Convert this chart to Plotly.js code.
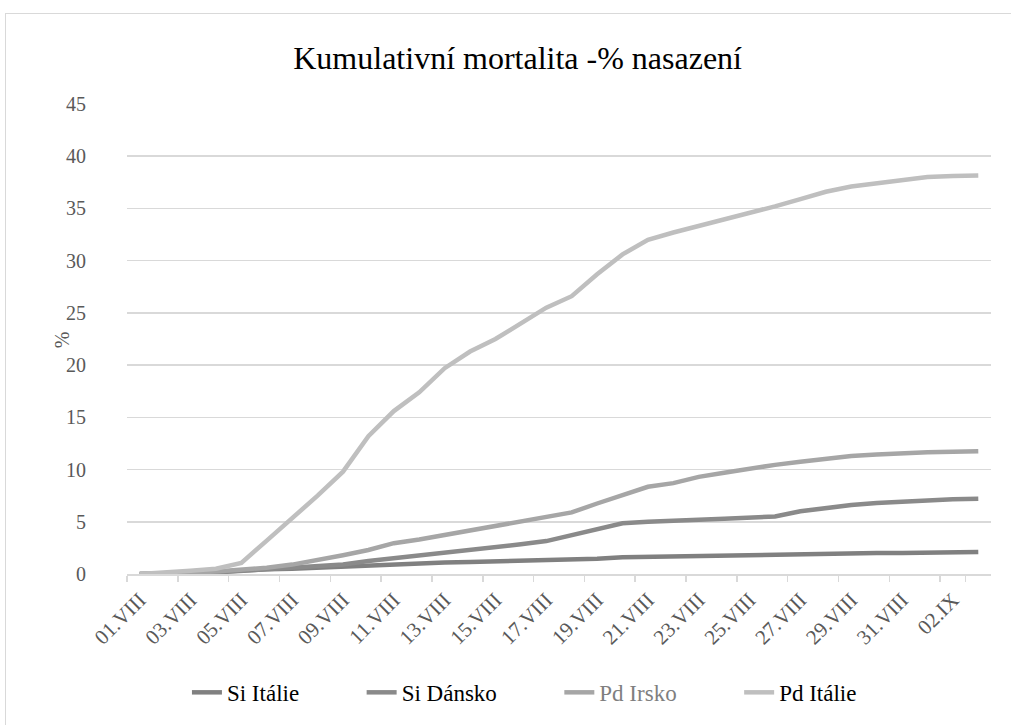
<!DOCTYPE html>
<html>
<head>
<meta charset="utf-8">
<script src="https://cdn.plot.ly/plotly-3.0.1.min.js"></script>
<style>
  html, body { margin: 0; padding: 0; background: #fff; overflow: hidden; }
  #frame { position: absolute; left: 5px; top: 13px; width: 1030px; height: 740px; border: 1px solid #d9d9d9; box-sizing: border-box; }
  #chart { position: absolute; left: 0; top: 0; width: 1011px; height: 725px; }
</style>
</head>
<body>
<div id="frame"></div>
<div id="chart"></div>
<script>
const categories = [
  "01.VIII","02.VIII","03.VIII","04.VIII","05.VIII","06.VIII","07.VIII","08.VIII","09.VIII","10.VIII",
  "11.VIII","12.VIII","13.VIII","14.VIII","15.VIII","16.VIII","17.VIII","18.VIII","19.VIII","20.VIII",
  "21.VIII","22.VIII","23.VIII","24.VIII","25.VIII","26.VIII","27.VIII","28.VIII","29.VIII","30.VIII",
  "31.VIII","01.IX","02.IX","03.IX"
];
const tickLabels = categories.filter((c, i) => i % 2 === 0);

const siItalie = [0,0,0.05,0.2,0.35,0.45,0.5,0.6,0.7,0.85,1.0,1.05,1.1,1.15,1.2,1.25,1.25,1.3,1.45,1.6,1.65,1.7,1.7,1.7,1.75,1.8,1.85,1.9,1.95,2.0,2.0,2.05,2.1,2.1];
const siDansko = [0,0,0.05,0.15,0.3,0.4,0.5,0.7,0.9,1.25,1.5,1.8,2.05,2.25,2.6,2.85,3.15,3.7,4.35,4.85,5.0,5.15,5.2,5.3,5.4,5.5,6.0,6.35,6.6,6.8,6.95,7.1,7.15,7.2];
const pdIrsko = [0,0,0.1,0.25,0.4,0.6,0.9,1.3,1.8,2.3,2.95,3.3,3.75,4.2,4.65,5.1,5.45,5.9,6.75,7.6,8.35,8.7,9.3,9.7,10.1,10.45,10.75,11.05,11.3,11.45,11.6,11.65,11.7,11.75];
const pdItalie = [0,0.1,0.3,0.5,1.05,3.2,5.3,7.5,9.8,13.2,15.6,17.4,19.7,21.3,22.5,24.0,25.5,26.6,28.7,30.6,32.0,32.7,33.3,34.0,34.6,35.2,35.9,36.6,37.1,37.4,37.7,38.0,38.1,38.15];

const seriesLabels = ["Si Itálie", "Si Dánsko", "Pd Irsko", "Pd Itálie"];
const seriesData = [siItalie, siDansko, pdIrsko, pdItalie];
const seriesColors = ["#808080", "#8a8a8a", "#a6a6a6", "#bfbfbf"];
const legendTextColors = ["#000000", "#000000", "#7f7f7f", "#000000"];

const pad = "\u00A0".repeat(10);
const traces = seriesData.map((d, k) => ({
  type: "scatter",
  mode: "lines",
  x: categories,
  y: d,
  name: '<span style="color:' + legendTextColors[k] + '">' + seriesLabels[k] + '</span>' + (k < seriesData.length - 1 ? pad : ""),
  line: { color: seriesColors[k], width: 4.5 },
  hoverinfo: "x+y"
}));

const serif = "'Liberation Serif', 'Times New Roman', serif";

const layout = {
  width: 1011,
  height: 725,
  paper_bgcolor: "rgba(0,0,0,0)",
  plot_bgcolor: "rgba(0,0,0,0)",
  margin: { l: 127, r: 20, t: 104, b: 151 },
  font: { family: serif, color: "#595959", size: 20 },
  title: {
    text: "Kumulativní mortalita -% nasazení",
    font: { family: serif, size: 32, color: "#000000" },
    x: 0.512, xanchor: "center",
    y: 0.92, yanchor: "middle"
  },
  xaxis: {
    type: "category",
    tickmode: "array",
    tickvals: tickLabels,
    ticktext: tickLabels,
    tickson: "boundaries",
    ticks: "outside",
    ticklen: 6,
    tickcolor: "#d9d9d9",
    tickwidth: 1.5,
    tickangle: -45,
    ticklabelstandoff: 4,
    showgrid: false,
    showline: true,
    linecolor: "#d9d9d9",
    linewidth: 1.5,
    zeroline: false,
    range: [-0.5, 33.5],
    tickfont: { family: serif, size: 21, color: "#595959" },
    automargin: false,
    fixedrange: true
  },
  yaxis: {
    range: [0, 45],
    dtick: 5,
    tick0: 0,
    showgrid: true,
    gridcolor: "#d9d9d9",
    gridwidth: 1.5,
    zeroline: false,
    showline: false,
    ticks: "",
    ticklabelstandoff: 40,
    tickfont: { family: serif, size: 20, color: "#595959" },
    automargin: false,
    fixedrange: true
  },
  annotations: [{
    text: "%",
    xref: "paper", yref: "paper",
    x: -0.075, y: 0.498,
    xanchor: "center", yanchor: "middle",
    textangle: -90,
    showarrow: false,
    font: { family: serif, size: 20, color: "#595959" }
  }],
  showlegend: true,
  legend: {
    orientation: "h",
    xref: "paper", yref: "container",
    x: 0.46, xanchor: "center",
    y: 0.045, yanchor: "middle",
    font: { family: serif, size: 23, color: "#000000" },
    itemwidth: 30,
    traceorder: "normal",
    bgcolor: "rgba(0,0,0,0)"
  }
};

Plotly.newPlot("chart", traces, layout, { displayModeBar: false, staticPlot: true });
</script>
</body>
</html>
